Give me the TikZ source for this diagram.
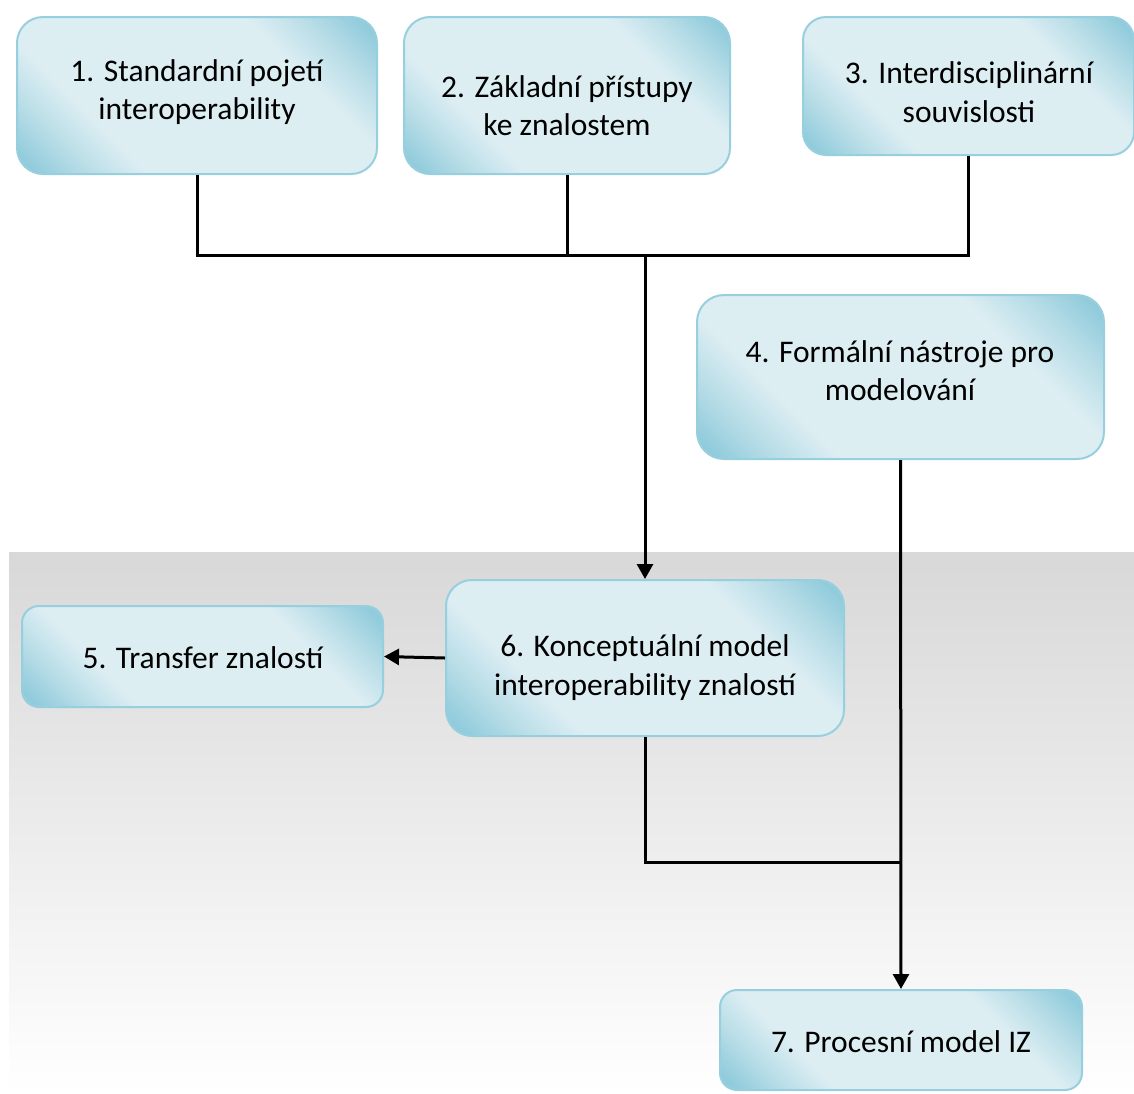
\documentclass[tikz,border=0pt]{standalone}
\usepackage{fontspec}
\setmainfont{Carlito}
\usetikzlibrary{arrows.meta}
\definecolor{boxdark}{RGB}{146,204,220}
\definecolor{boxmid}{RGB}{184,221,231}
\definecolor{boxlight}{RGB}{221,238,243}
\definecolor{boxline}{RGB}{152,207,222}
\definecolor{bandtop}{RGB}{216,216,216}

% teal in two opposite corners, pale everywhere else
\pgfdeclareverticalshading{boxshade}{100bp}{%
  color(0bp)=(boxdark); color(18bp)=(boxdark); color(25bp)=(boxmid);
  color(33bp)=(boxlight); color(67bp)=(boxlight); color(75bp)=(boxmid);
  color(82bp)=(boxdark); color(100bp)=(boxdark)}

% \tealbox{name}{x}{y}{radius}{width}{height}:
% 45-degree gradient whose ends sit just past the box corners,
% then the outlined node on top
\newcommand\tealbox[6]{%
  \begin{scope}
    \clip[rounded corners=#4pt] ({#2-#5/2},{#3-#6/2}) rectangle ({#2+#5/2},{#3+#6/2});
    \pgftransformshift{\pgfpointxy{#2}{#3}}%
    \pgftransformscale{(#5+#6)/(2*1.41421*35)}%
    \pgftransformrotate{-45}%
    \pgflowlevelsynccm
    \pgfuseshading{boxshade}%
  \end{scope}
  \node[box=#4, minimum width=#5pt, minimum height=#6pt] (#1) at (#2,#3) {};
}

\begin{document}
\begin{tikzpicture}[x=1pt,y=-1pt,
  box/.style={draw=boxline, line width=2pt, rounded corners=#1pt, inner sep=0pt},
  lbl/.style={font=\fontsize{31.5}{38.5}\selectfont, align=center, inner sep=0pt},
  conn/.style={line width=3pt},
  arr/.style={conn, -{Triangle[width=16pt,length=15pt]}}]

\useasboundingbox (0,0) rectangle (1134,1093);

% lower grey band
\shade[top color=bandtop, bottom color=white] (9,552) rectangle (1134,1093);

% boxes
\tealbox{b1}{197}{95.5}{26}{360}{157}
\tealbox{b2}{567}{95.5}{26}{326}{157}
\tealbox{b3}{968.5}{86}{23}{331}{138}
\tealbox{b4}{900.5}{377}{27}{407}{164}
\tealbox{b5}{202.5}{656.5}{17}{361}{101}
\tealbox{b6}{645}{658}{26}{398}{156}
\tealbox{b7}{901}{1040}{17}{362}{100}

% labels
\node[lbl] (t1) at (197,92) {1. Standardní pojetí\\interoperability};
\node[lbl] (t2) at (567,105.5) {2. Základní přístupy\\ke znalostem};
\node[lbl] (t3) at (969,92) {3. Interdisciplinární\\souvislosti};
\node[lbl] (t4) at (900,370.5) {4. Formální nástroje pro\\modelování};
\node[lbl] (t5) at (203,658) {5. Transfer znalostí};
\node[lbl] (t6) at (645,667.5) {6. Konceptuální model\\interoperability znalostí};
\node[lbl] (t7) at (901,1042) {7. Procesní model IZ};

% connectors
\coordinate (j) at (645,255);
\coordinate (k) at (901,862);
\draw[conn] (b1.south) |- (j) -| (b3.south);
\draw[conn] (b2.south) -- (b2.south |- j);
\draw[arr] (j) -- (b6.north);
\draw[arr] (b6.west) -- (b5.east);
\draw[arr] (b4.south) -- (b7.north);
\draw[conn] (b6.south) |- (k);
\end{tikzpicture}
\end{document}
